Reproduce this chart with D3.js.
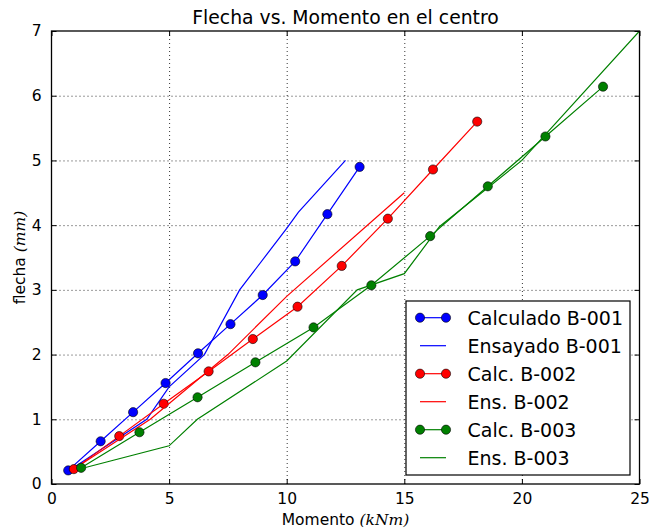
<!DOCTYPE html>
<html>
<head>
<meta charset="utf-8">
<script src="https://cdn.jsdelivr.net/npm/d3@7"></script>
<style>
  body { margin: 0; background: #fff; }
  text { font-family: "DejaVu Sans", sans-serif; fill: #000; }
  .grid line { stroke: #000; stroke-width: 0.8; stroke-dasharray: 1,3; }
  .grid path { display: none; }
  .axis path { display: none; }
  .axis line { stroke: #000; stroke-width: 1; }
</style>
</head>
<body>
<script>
// Calculado / Ensayado (momento kNm, flecha mm)
var calcB001X = [0.71, 2.09, 3.47, 4.85, 6.23, 7.61, 8.98, 10.36, 11.73, 13.1]
var calcB001Y = [0.21, 0.66, 1.11, 1.56, 2.02, 2.47, 2.92, 3.44, 4.17, 4.90]
var ensB001X = [0.8, 4.05, 5.0, 6.5, 8.0, 10.0, 10.5, 12.5]
var ensB001Y = [0.22, 1.0, 1.5, 2.0, 3.0, 3.95, 4.2, 5.0]

var calcB002X = [0.95, 2.88, 4.77, 6.68, 8.56, 10.46, 12.34, 14.3, 16.22, 18.1]
var calcB002Y = [0.23, 0.74, 1.24, 1.74, 2.24, 2.74, 3.37, 4.1, 4.86, 5.6]
var ensB002X = [0.95, 4.2, 7.5, 10.0, 15.0]
var ensB002Y = [0.23, 1.0, 2.0, 2.9, 4.5]

var calcB003X = [1.26, 3.74, 6.21, 8.67, 11.14, 13.6, 16.1, 18.55, 21.0, 23.45]
var calcB003Y = [0.25, 0.8, 1.34, 1.88, 2.42, 3.07, 3.83, 4.6, 5.37, 6.14]
var ensB003X = [1.28, 5.0, 6.2, 10.0, 13.0, 15.0, 16.5, 20.0, 25.0]
var ensB003Y = [0.24, 0.59, 1.0, 1.9, 3.0, 3.25, 3.98, 5.0, 7.0]

var xTicks = [0, 5, 10, 15, 20, 25]
var yTicks = [0, 1, 2, 3, 4, 5, 6, 7]

var series = [
  {name: "Calculado B-001", xs: calcB001X, ys: calcB001Y, color: "#0000ff", marker: true},
  {name: "Ensayado B-001", xs: ensB001X, ys: ensB001Y, color: "#0000ff", marker: false},
  {name: "Calc. B-002", xs: calcB002X, ys: calcB002Y, color: "#ff0000", marker: true},
  {name: "Ens. B-002", xs: ensB002X, ys: ensB002Y, color: "#ff0000", marker: false},
  {name: "Calc. B-003", xs: calcB003X, ys: calcB003Y, color: "#008000", marker: true},
  {name: "Ens. B-003", xs: ensB003X, ys: ensB003Y, color: "#008000", marker: false}
]

var width = 649
var height = 531
var margin = {top: 31, right: 9.5, bottom: 47, left: 51.5}
var w = width - margin.left - margin.right
var h = height - margin.top - margin.bottom

var svg = d3.select("body").append("svg")
    .attr("width", width)
    .attr("height", height)

var g = svg.append("g")
    .attr("transform", `translate(${margin.left},${margin.top})`)

var x = d3.scaleLinear().domain([0, 25]).range([0, w])
var y = d3.scaleLinear().domain([0, 7]).range([h, 0])

// rejilla punteada
g.append("g")
   .attr("class", "grid")
   .attr("transform", `translate(0,${h})`)
   .call(d3.axisBottom(x).tickValues(xTicks.slice(1, -1)).tickSize(-h).tickFormat(""))
g.append("g")
   .attr("class", "grid")
   .call(d3.axisLeft(y).tickValues(yTicks.slice(1, -1)).tickSize(-w).tickFormat(""))

var clip = svg.append("clipPath").attr("id", "clip")
clip.append("rect").attr("width", w).attr("height", h)

var plot = g.append("g").attr("clip-path", "url(#clip)")

var line = d3.line().x(d => x(d[0])).y(d => y(d[1]))

series.forEach(function(s) {
  var pts = s.xs.map((v, i) => [v, s.ys[i]])
  plot.append("path")
      .attr("d", line(pts))
      .attr("fill", "none")
      .attr("stroke", s.color)
      .attr("stroke-width", 1.2)
  if (s.marker) {
    plot.selectAll(null)
        .data(pts)
        .enter().append("circle")
        .attr("cx", d => x(d[0]))
        .attr("cy", d => y(d[1]))
        .attr("r", 4.6)
        .attr("fill", s.color)
        .attr("stroke", "#000")
        .attr("stroke-width", 0.6)
  }
})

// ejes con ticks hacia dentro
var fs = "15.5px"
var xAxis = g.append("g")
   .attr("class", "axis")
   .attr("transform", `translate(0,${h})`)
   .call(d3.axisBottom(x).tickValues(xTicks).tickSize(-5).tickPadding(9).tickFormat(d3.format("d")))
xAxis.selectAll("text").style("font-size", fs).attr("font-family", null)

g.append("g")
   .attr("class", "axis")
   .call(d3.axisTop(x).tickValues(xTicks).tickSize(-5).tickFormat(""))

var yAxis = g.append("g")
   .attr("class", "axis")
   .call(d3.axisLeft(y).tickValues(yTicks).tickSize(-5).tickPadding(10).tickFormat(d3.format("d")))
yAxis.selectAll("text").style("font-size", fs).attr("font-family", null)

g.append("g")
   .attr("class", "axis")
   .attr("transform", `translate(${w},0)`)
   .call(d3.axisRight(y).tickValues(yTicks).tickSize(-5).tickFormat(""))

g.append("rect")
   .attr("width", w)
   .attr("height", h)
   .attr("fill", "none")
   .attr("stroke", "#000")
   .attr("stroke-width", 1.3)

// titulo y etiquetas
svg.append("text")
    .attr("x", margin.left + w / 2)
    .attr("y", 24)
    .style("text-anchor", "middle")
    .style("font-size", "18.8px")
    .text("Flecha vs. Momento en el centro")

var xl = svg.append("text")
    .attr("x", margin.left + w / 2)
    .attr("y", 525)
    .style("text-anchor", "middle")
    .style("font-size", fs)
xl.append("tspan").text("Momento ")
xl.append("tspan").style("font-family", "'DejaVu Serif', serif").style("font-style", "italic").text("(kNm)")

var yl = svg.append("text")
    .attr("transform", `translate(25,${margin.top + h / 2}) rotate(-90)`)
    .style("text-anchor", "middle")
    .style("font-size", fs)
yl.append("tspan").text("flecha ")
yl.append("tspan").style("font-family", "'DejaVu Serif', serif").style("font-style", "italic").text("(mm)")

// leyenda
var legend = svg.append("g").attr("transform", "translate(406,301)")
legend.append("rect")
    .attr("width", 224)
    .attr("height", 174)
    .attr("fill", "#fff")
    .attr("stroke", "#000")
    .attr("stroke-width", 1.2)

var item = legend.selectAll(".item")
    .data(series)
    .enter().append("g")
    .attr("class", "item")
    .attr("transform", (d, i) => `translate(0,${16.7 + i * 28})`)

item.append("line")
    .attr("x1", 14).attr("x2", 40)
    .attr("stroke", d => d.color)
    .attr("stroke-width", 1.2)
item.filter(d => d.marker).selectAll("circle")
    .data(d => [14, 40].map(cx => ({cx: cx, color: d.color})))
    .enter().append("circle")
    .attr("cx", d => d.cx)
    .attr("r", 4.6)
    .attr("fill", d => d.color)
    .attr("stroke", "#000")
    .attr("stroke-width", 0.6)
item.append("text")
    .attr("x", 61.5)
    .attr("dy", "0.36em")
    .style("font-size", "19px")
    .text(d => d.name)
</script>
</body>
</html>
